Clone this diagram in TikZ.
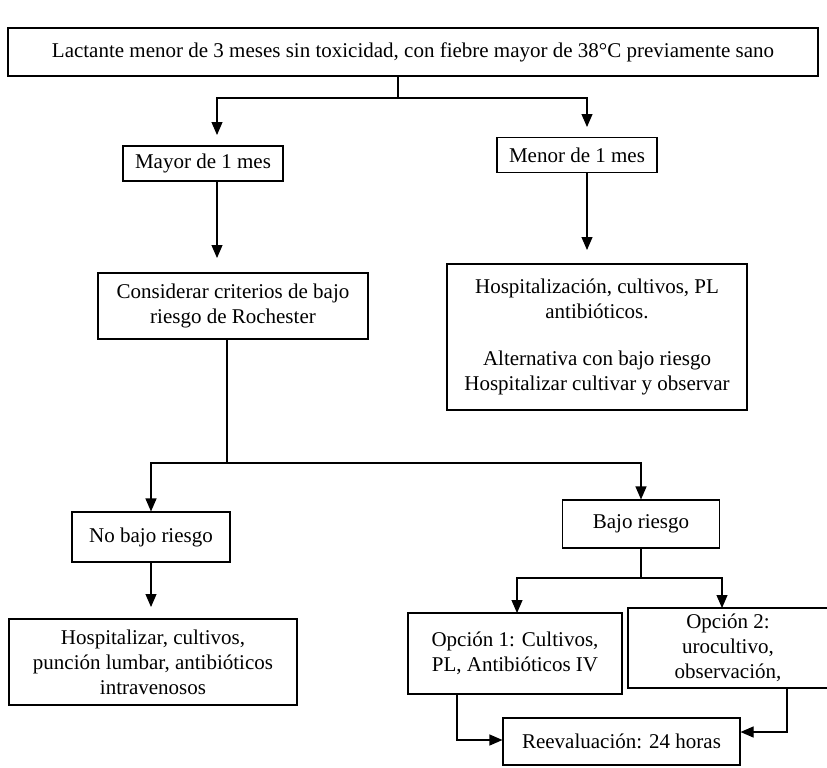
\documentclass[tikz,border=0pt]{standalone}
\usepackage{fontspec}
\setmainfont{Liberation Serif}
\usetikzlibrary{arrows.meta}
\begin{document}
\begin{tikzpicture}[x=1pt,y=-1pt,
  box/.style={draw, line width=1.1pt, align=center, inner sep=0pt, font=\fontsize{21}{25}\selectfont},
  conn/.style={line width=1.1pt},
  arr/.style={conn, -{Triangle[width=11pt,length=13pt]}},
]
\useasboundingbox (0,0) rectangle (827,768);
\clip (0,0) rectangle (827,768);
\fill[white] (0,0) rectangle (827,768);

\node[box, minimum width=810pt, minimum height=48pt] (top) at (413,52) {Lactante menor de 3 meses sin toxicidad, con fiebre mayor de 38°C previamente sano};
\node[box, minimum width=160pt, minimum height=35pt] (mayor) at (203,163.5) {Mayor de 1 mes};
\node[box, minimum width=160pt, minimum height=35pt] (menor) at (577,155) {Menor de 1 mes};
\node[box, minimum width=270pt, minimum height=66pt] (cons) at (233,306) {Considerar criterios de bajo\\riesgo de Rochester};
\node[box, minimum width=300pt, minimum height=146pt] (hosp) at (597,337) {Hospitalización, cultivos, PL\\antibióticos.\\[22pt]Alternativa con bajo riesgo\\Hospitalizar cultivar y observar};
\node[box, minimum width=158pt, minimum height=50pt] (nobajo) at (151,537) {No bajo riesgo};
\node[box, minimum width=157pt, minimum height=48pt] (bajo) at (641,524) {Bajo riesgo};
\node[box, minimum width=288pt, minimum height=86pt] (hospz) at (153,662) {Hospitalizar, cultivos,\\punción lumbar, antibióticos\\intravenosos};
\node[box, minimum width=214pt, minimum height=81pt] (op1) at (515,653.5) {Opción 1: Cultivos,\\PL, Antibióticos IV};
\node[box, minimum width=200pt, minimum height=80pt] (op2) at (728,648) {Opción 2:\\urocultivo,\\observación,};
\node[box, minimum width=237pt, minimum height=47pt] (reev) at (621.5,741.5) {Reevaluación: 24 horas};

% top split
\coordinate (j1) at (398,98);
\coordinate (tL) at (217,135);
\coordinate (tR) at (587,127);
\draw[conn] (top.south -| j1) -- (j1);
\draw[arr] (j1) -- (j1 -| tL) -- (tL);
\draw[arr] (j1) -- (j1 -| tR) -- (tR);

% mayor / menor
\coordinate (t3) at (217,258);
\coordinate (t4) at (587,250);
\draw[arr] (mayor.south -| t3) -- (t3);
\draw[arr] (menor.south -| t4) -- (t4);

% considerar split
\coordinate (j2) at (227,463);
\draw[conn] (cons.south -| j2) -- (j2);
\draw[arr] (j2) -- (j2 -| nobajo.north) -- (nobajo.north);
\draw[arr] (j2) -- (j2 -| bajo.north) -- (bajo.north);

% no bajo riesgo
\coordinate (t5) at (151,607);
\draw[arr] (nobajo.south) -- (t5);

% bajo riesgo split
\coordinate (j3) at (641,578);
\coordinate (o1) at (517,613);
\coordinate (o2) at (722,608);
\draw[conn] (bajo.south) -- (j3);
\draw[arr] (j3) -- (j3 -| o1) -- (o1);
\draw[arr] (j3) -- (j3 -| o2) -- (o2);

% to reevaluacion
\coordinate (r1) at (457,740);
\coordinate (r2) at (787,732);
\draw[arr] (op1.south -| r1) -- (r1) -- (reev.west |- r1);
\draw[arr] (op2.south -| r2) -- (r2) -- (reev.east |- r2);
\end{tikzpicture}
\end{document}
